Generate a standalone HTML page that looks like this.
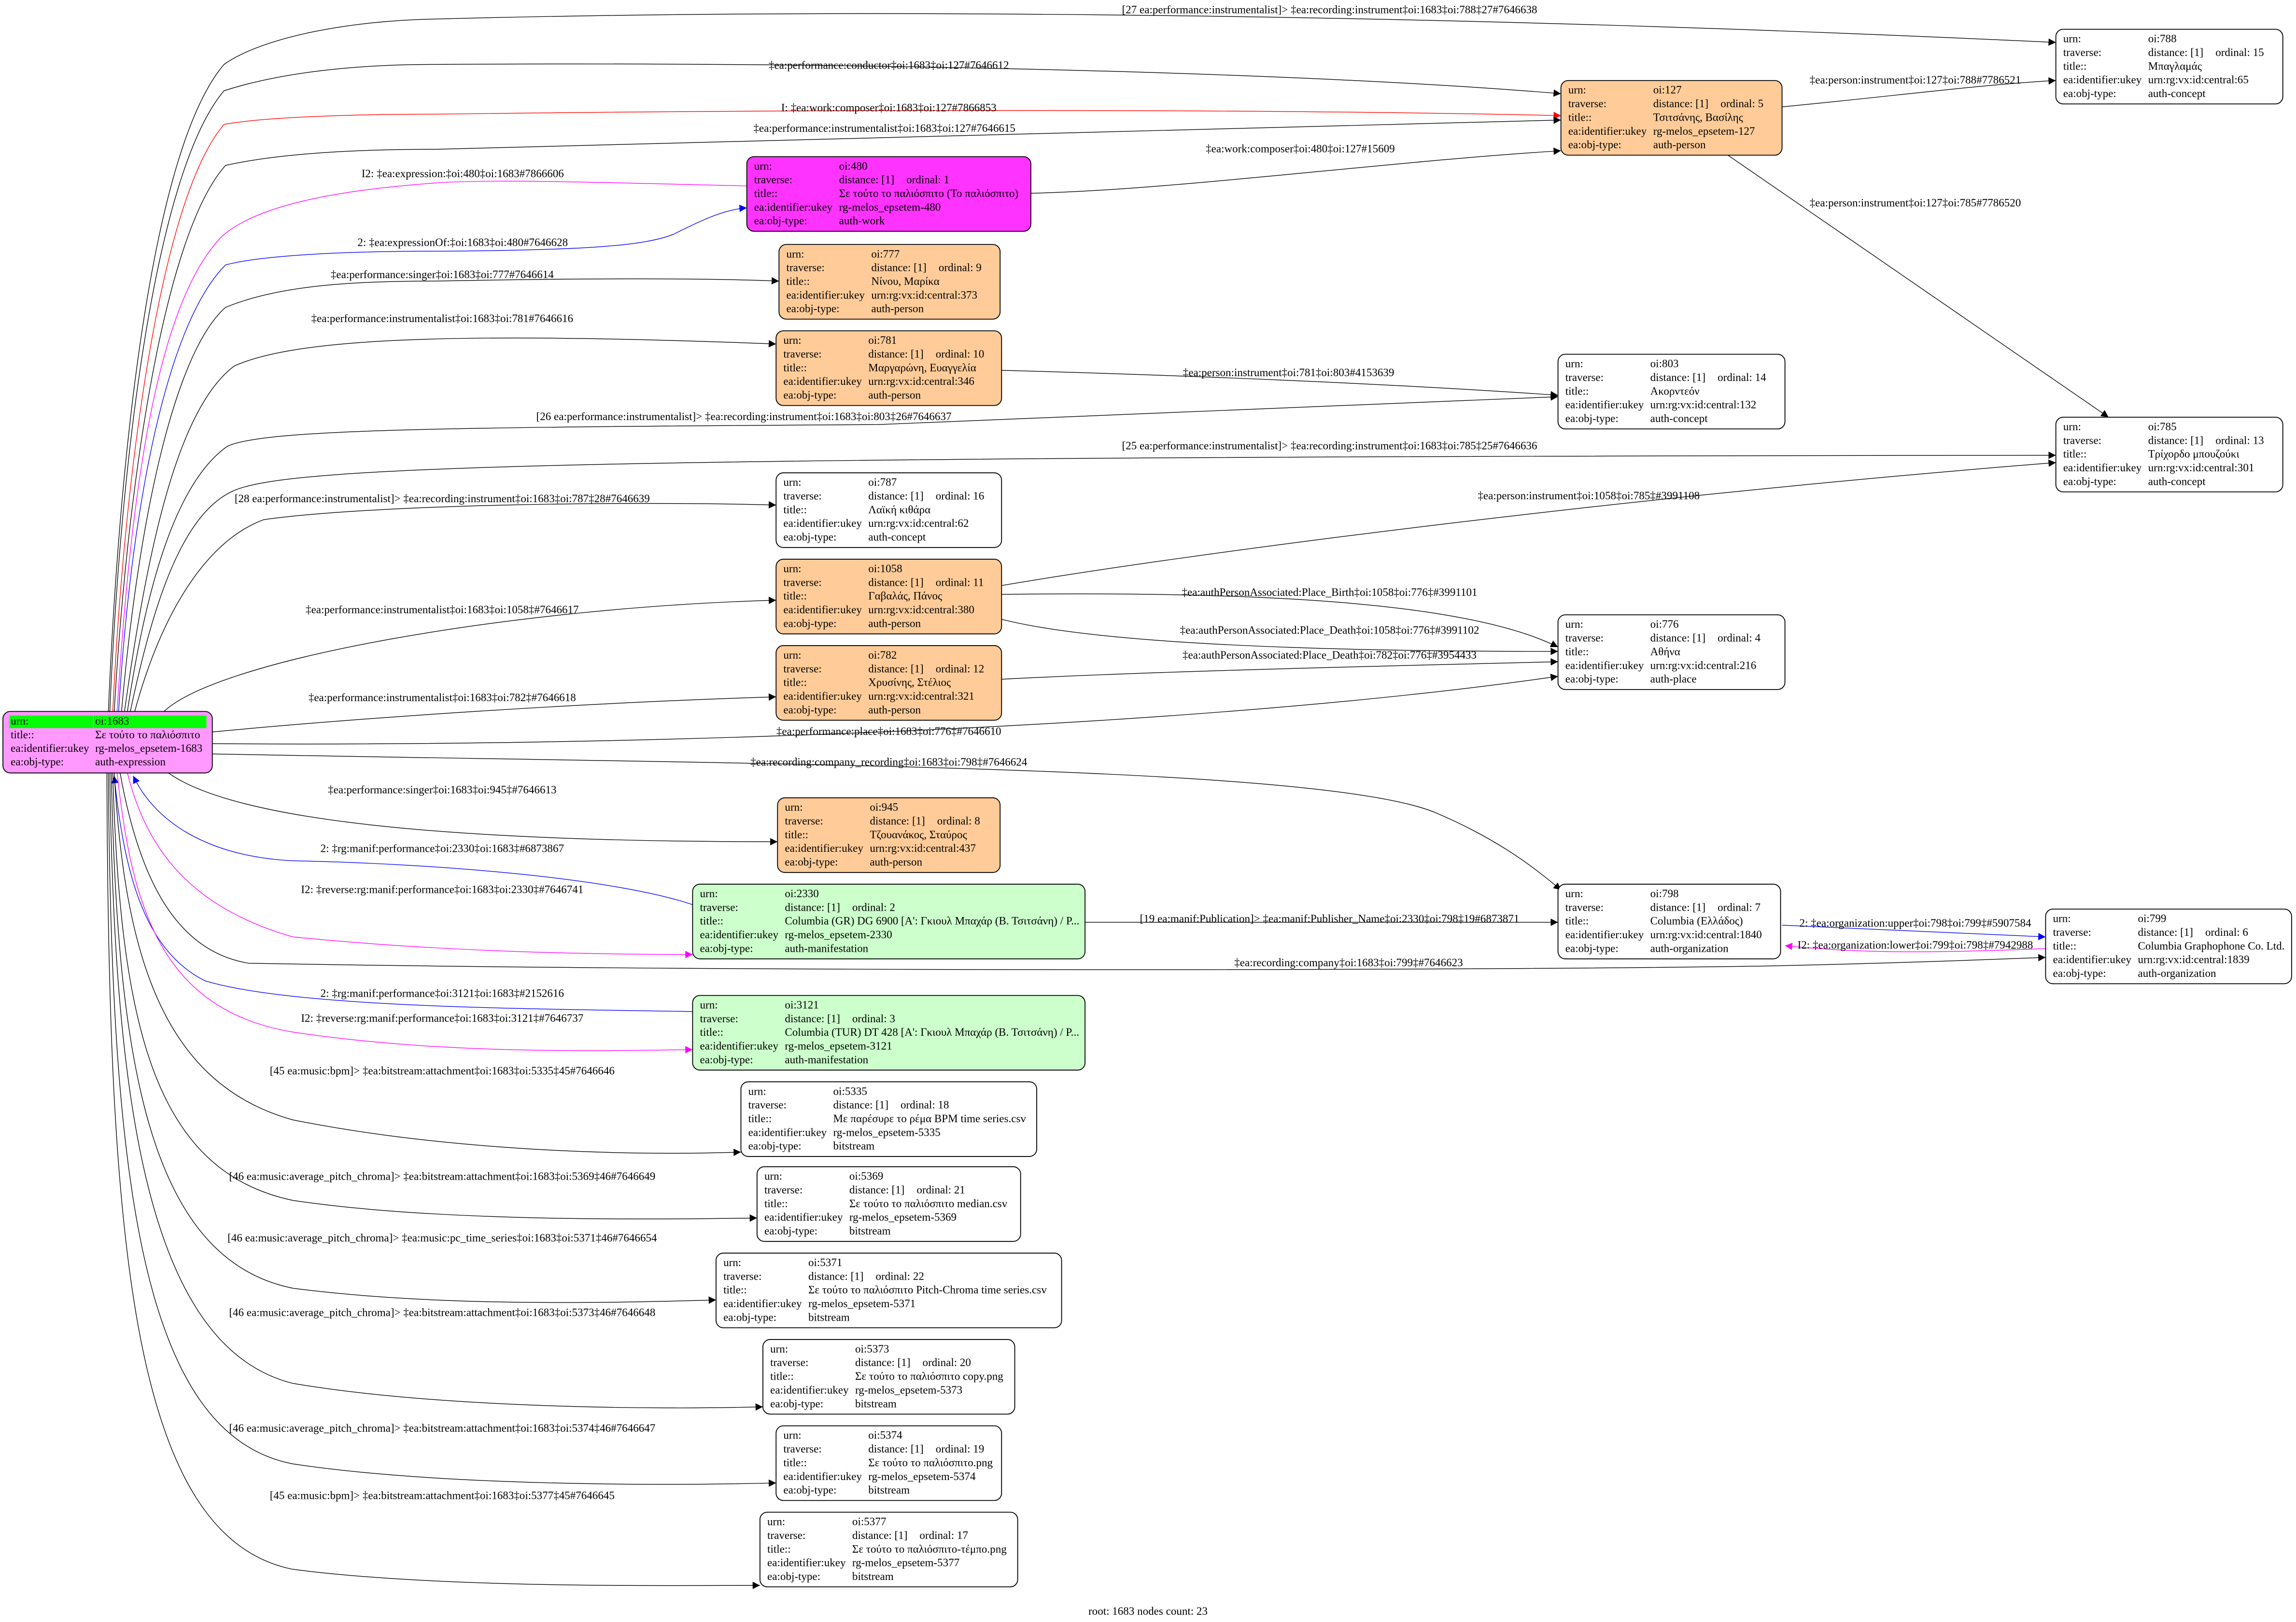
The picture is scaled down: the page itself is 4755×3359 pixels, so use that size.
<!DOCTYPE html>
<html><head><meta charset="utf-8">
<style>
html,body{margin:0;padding:0;background:#fff;}
svg{display:block;}
text{font-family:"Liberation Serif","DejaVu Serif",serif;font-size:7.6px;fill:#000;}
.e{fill:none;stroke:#000;stroke-width:0.45;}
.l{text-anchor:middle;}
</style></head>
<body>
<svg xmlns="http://www.w3.org/2000/svg" width="4755" height="3359" viewBox="0 0 1568 1108" preserveAspectRatio="none">
<defs>
<marker id="ak" viewBox="0 0 10 10" refX="10" refY="5" markerWidth="7" markerHeight="5" markerUnits="userSpaceOnUse" orient="auto"><path d="M0,0 L10,5 L0,10 z" fill="#000"/></marker>
<marker id="ab" viewBox="0 0 10 10" refX="10" refY="5" markerWidth="7" markerHeight="5" markerUnits="userSpaceOnUse" orient="auto"><path d="M0,0 L10,5 L0,10 z" fill="#00f"/></marker>
<marker id="am" viewBox="0 0 10 10" refX="10" refY="5" markerWidth="7" markerHeight="5" markerUnits="userSpaceOnUse" orient="auto"><path d="M0,0 L10,5 L0,10 z" fill="#f0f"/></marker>
<marker id="ar" viewBox="0 0 10 10" refX="10" refY="5" markerWidth="7" markerHeight="5" markerUnits="userSpaceOnUse" orient="auto"><path d="M0,0 L10,5 L0,10 z" fill="#f00"/></marker>
</defs>

<!-- edges -->
<path class="e" marker-end="url(#ak)" d="M74,486 C82,300 105,100 153,44 C180,25 240,14 297,13 C600,5 1000,10 1404,29"/>
<path class="e" marker-end="url(#ak)" d="M75,486 C83,300 108,115 153,62 C190,50 240,44 297,44 C600,42 900,50 1066,64"/>
<path class="e" style="stroke:#f00" marker-end="url(#ar)" d="M77,486 C85,320 110,135 153,85 C180,80 240,78 297,78 C600,74 900,75 1066,79"/>
<path class="e" marker-end="url(#ak)" d="M78,486 C87,330 112,160 154,113 C190,105 240,102 297,102 C600,95 900,85 1066,82"/>
<path class="e" marker-end="url(#ak)" d="M704,132 C800,130 950,110 1066,103"/>
<path class="e" style="stroke:#f0f" d="M510,127 C420,125 340,122 297,125 C230,130 175,140 151,162 C110,205 90,320 80,486"/>
<path class="e" style="stroke:#00f" marker-end="url(#ab)" d="M81,486 C90,340 115,220 154,181 C180,174 240,171.6 297,171.6 C400,171 440,168 460,160 C480,150 495,143 510,142"/>
<path class="e" marker-end="url(#ak)" d="M83,486 C95,350 120,240 154,210 C190,195 240,192 297,192 C400,190 480,190 532,192"/>
<path class="e" marker-end="url(#ak)" d="M85,486 C100,380 120,280 160,250 C200,232 300,226 530,235"/>
<path class="e" marker-end="url(#ak)" d="M87,486 C100,400 120,330 155,305 C180,293 300,292 600,290 L1064,271"/>
<path class="e" marker-end="url(#ak)" d="M89,486 C105,410 125,350 160,335 C200,318 400,312 1404,311"/>
<path class="e" marker-end="url(#ak)" d="M92,486 C110,420 140,370 180,355 C250,345 420,342 530,345"/>
<path class="e" marker-end="url(#ak)" d="M112,486 C150,450 350,415 530,410"/>
<path class="e" marker-end="url(#ak)" d="M145,500 C250,490 400,480 530,476"/>
<path class="e" marker-end="url(#ak)" d="M145,508 C400,510 800,500 1064,462"/>
<path class="e" marker-end="url(#ak)" d="M145,515 C500,522 900,522 980,555 C1020,572 1045,590 1066,608"/>
<path class="e" marker-end="url(#ak)" d="M115,528 C160,560 300,575 531,575"/>
<path class="e" style="stroke:#00f" marker-end="url(#ab)" d="M473,618 C420,600 300,590 200,588 C140,585 105,560 91,530"/>
<path class="e" style="stroke:#f0f" marker-end="url(#am)" d="M87,528 C100,580 130,620 200,640 C300,650 400,652 473,652"/>
<path class="e" marker-end="url(#ak)" d="M82,528 C95,600 120,650 170,658 C500,664 1000,663 1200,660 C1300,658 1370,655 1397,654"/>
<path class="e" style="stroke:#00f" marker-end="url(#ab)" d="M473,691 C350,689 200,688 140,670 C100,650 85,600 78,530"/>
<path class="e" style="stroke:#f0f" marker-end="url(#am)" d="M80,528 C90,620 110,690 200,705 C300,720 400,718 473,717"/>
<path class="e" marker-end="url(#ak)" d="M78,528 C85,650 110,740 200,765 C300,785 420,790 506,787"/>
<path class="e" marker-end="url(#ak)" d="M77,528 C82,700 105,800 200,820 C300,835 450,833 517,832"/>
<path class="e" marker-end="url(#ak)" d="M76,528 C80,720 100,860 200,880 C300,893 420,890 489,888"/>
<path class="e" marker-end="url(#ak)" d="M75,528 C78,750 100,920 200,945 C300,962 450,963 521,961"/>
<path class="e" marker-end="url(#ak)" d="M74,528 C76,800 95,980 200,1000 C300,1015 450,1015 530,1013"/>
<path class="e" marker-end="url(#ak)" d="M73,528 C74,850 90,1050 200,1072 C300,1085 450,1083 519,1083"/>
<path class="e" marker-end="url(#ak)" d="M1217,73 C1300,65 1350,58 1404,55"/>
<path class="e" marker-end="url(#ak)" d="M1180,106 L1440,285"/>
<path class="e" marker-end="url(#ak)" d="M684,253 C800,256 950,262 1064,270"/>
<path class="e" marker-end="url(#ak)" d="M684,400 C800,380 1100,340 1404,316"/>
<path class="e" marker-end="url(#ak)" d="M684,406 C850,404 1000,410 1064,442"/>
<path class="e" marker-end="url(#ak)" d="M684,423 C750,440 900,445 1064,445"/>
<path class="e" marker-end="url(#ak)" d="M684,464 C800,458 950,455 1064,452"/>
<path class="e" marker-end="url(#ak)" d="M741,630 L1064,630"/>
<path class="e" style="stroke:#00f" marker-end="url(#ab)" d="M1217,632 L1397,640"/>
<path class="e" style="stroke:#f0f" marker-end="url(#am)" d="M1397,648 C1300,652 1260,650 1219,646"/>

<!-- edge labels -->
<text class="l" x="908" y="9">[27 ea:performance:instrumentalist]&gt; ‡ea:recording:instrument‡oi:1683‡oi:788‡27#7646638</text>
<text class="l" x="607" y="47">‡ea:performance:conductor‡oi:1683‡oi:127#7646612</text>
<text class="l" x="607" y="76">I: ‡ea:work:composer‡oi:1683‡oi:127#7866853</text>
<text class="l" x="604" y="90">‡ea:performance:instrumentalist‡oi:1683‡oi:127#7646615</text>
<text class="l" x="888" y="104">‡ea:work:composer‡oi:480‡oi:127#15609</text>
<text class="l" x="1308" y="57">‡ea:person:instrument‡oi:127‡oi:788#7786521</text>
<text class="l" x="1308" y="141">‡ea:person:instrument‡oi:127‡oi:785#7786520</text>
<text class="l" x="316" y="121">I2: ‡ea:expression:‡oi:480‡oi:1683#7866606</text>
<text class="l" x="316" y="168">2: ‡ea:expressionOf:‡oi:1683‡oi:480#7646628</text>
<text class="l" x="302" y="190">‡ea:performance:singer‡oi:1683‡oi:777#7646614</text>
<text class="l" x="302" y="220">‡ea:performance:instrumentalist‡oi:1683‡oi:781#7646616</text>
<text class="l" x="880" y="257">‡ea:person:instrument‡oi:781‡oi:803#4153639</text>
<text class="l" x="508" y="287">[26 ea:performance:instrumentalist]&gt; ‡ea:recording:instrument‡oi:1683‡oi:803‡26#7646637</text>
<text class="l" x="908" y="307">[25 ea:performance:instrumentalist]&gt; ‡ea:recording:instrument‡oi:1683‡oi:785‡25#7646636</text>
<text class="l" x="302" y="343">[28 ea:performance:instrumentalist]&gt; ‡ea:recording:instrument‡oi:1683‡oi:787‡28#7646639</text>
<text class="l" x="1085" y="341">‡ea:person:instrument‡oi:1058‡oi:785‡#3991108</text>
<text class="l" x="908" y="407">‡ea:authPersonAssociated:Place_Birth‡oi:1058‡oi:776‡#3991101</text>
<text class="l" x="908" y="433">‡ea:authPersonAssociated:Place_Death‡oi:1058‡oi:776‡#3991102</text>
<text class="l" x="908" y="450">‡ea:authPersonAssociated:Place_Death‡oi:782‡oi:776‡#3954433</text>
<text class="l" x="302" y="419">‡ea:performance:instrumentalist‡oi:1683‡oi:1058‡#7646617</text>
<text class="l" x="302" y="479">‡ea:performance:instrumentalist‡oi:1683‡oi:782‡#7646618</text>
<text class="l" x="607" y="502">‡ea:performance:place‡oi:1683‡oi:776‡#7646610</text>
<text class="l" x="607" y="523">‡ea:recording:company_recording‡oi:1683‡oi:798‡#7646624</text>
<text class="l" x="302" y="542">‡ea:performance:singer‡oi:1683‡oi:945‡#7646613</text>
<text class="l" x="302" y="582">2: ‡rg:manif:performance‡oi:2330‡oi:1683‡#6873867</text>
<text class="l" x="302" y="610">I2: ‡reverse:rg:manif:performance‡oi:1683‡oi:2330‡#7646741</text>
<text class="l" x="908" y="630">[19 ea:manif:Publication]&gt; ‡ea:manif:Publisher_Name‡oi:2330‡oi:798‡19#6873871</text>
<text class="l" x="1308" y="633">2: ‡ea:organization:upper‡oi:798‡oi:799‡#5907584</text>
<text class="l" x="1308" y="648">I2: ‡ea:organization:lower‡oi:799‡oi:798‡#7942988</text>
<text class="l" x="921" y="660">‡ea:recording:company‡oi:1683‡oi:799‡#7646623</text>
<text class="l" x="302" y="681">2: ‡rg:manif:performance‡oi:3121‡oi:1683‡#2152616</text>
<text class="l" x="302" y="698">I2: ‡reverse:rg:manif:performance‡oi:1683‡oi:3121‡#7646737</text>
<text class="l" x="302" y="734">[45 ea:music:bpm]&gt; ‡ea:bitstream:attachment‡oi:1683‡oi:5335‡45#7646646</text>
<text class="l" x="302" y="806">[46 ea:music:average_pitch_chroma]&gt; ‡ea:bitstream:attachment‡oi:1683‡oi:5369‡46#7646649</text>
<text class="l" x="302" y="848">[46 ea:music:average_pitch_chroma]&gt; ‡ea:music:pc_time_series‡oi:1683‡oi:5371‡46#7646654</text>
<text class="l" x="302" y="899">[46 ea:music:average_pitch_chroma]&gt; ‡ea:bitstream:attachment‡oi:1683‡oi:5373‡46#7646648</text>
<text class="l" x="302" y="978">[46 ea:music:average_pitch_chroma]&gt; ‡ea:bitstream:attachment‡oi:1683‡oi:5374‡46#7646647</text>
<text class="l" x="302" y="1024">[45 ea:music:bpm]&gt; ‡ea:bitstream:attachment‡oi:1683‡oi:5377‡45#7646645</text>

<!-- root node -->
<g transform="translate(2,486)">
<rect x="0" y="0" width="143" height="42" rx="5" fill="#ff99ff" stroke="#000" stroke-width="0.6"/>
<rect x="4.5" y="2.8" width="57" height="8.6" fill="#00ff00"/>
<rect x="62" y="2.8" width="77" height="8.6" fill="#00ff00"/>
<text x="5.3" y="9">urn:</text><text x="63" y="9">oi:1683</text>
<text x="5.3" y="18.3">title::</text><text x="63" y="18.3">Σε τούτο το παλιόσπιτο</text>
<text x="5.3" y="27.6">ea:identifier:ukey</text><text x="63" y="27.6">rg-melos_epsetem-1683</text>
<text x="5.3" y="36.9">ea:obj-type:</text><text x="63" y="36.9">auth-expression</text>
</g>

<!-- nodes -->
<g transform="translate(1404,20)"><rect width="155" height="51" rx="5" fill="#fff" stroke="#000" stroke-width="0.6"/>
<text x="5" y="8.9">urn:</text><text x="63" y="8.9">oi:788</text>
<text x="5" y="18.25">traverse:</text><text x="63" y="18.25">distance: [1]</text><text x="109" y="18.25">ordinal: 15</text>
<text x="5" y="27.6">title::</text><text x="63" y="27.6">Μπαγλαμάς</text>
<text x="5" y="36.95">ea:identifier:ukey</text><text x="63" y="36.95">urn:rg:vx:id:central:65</text>
<text x="5" y="46.3">ea:obj-type:</text><text x="63" y="46.3">auth-concept</text></g>

<g transform="translate(1066,55)"><rect width="151" height="51" rx="5" fill="#ffcc99" stroke="#000" stroke-width="0.6"/>
<text x="5" y="8.9">urn:</text><text x="63" y="8.9">oi:127</text>
<text x="5" y="18.25">traverse:</text><text x="63" y="18.25">distance: [1]</text><text x="109" y="18.25">ordinal: 5</text>
<text x="5" y="27.6">title::</text><text x="63" y="27.6">Τσιτσάνης, Βασίλης</text>
<text x="5" y="36.95">ea:identifier:ukey</text><text x="63" y="36.95">rg-melos_epsetem-127</text>
<text x="5" y="46.3">ea:obj-type:</text><text x="63" y="46.3">auth-person</text></g>

<g transform="translate(510,107)"><rect width="194" height="51" rx="5" fill="#ff33ff" stroke="#000" stroke-width="0.6"/>
<text x="5" y="8.9">urn:</text><text x="63" y="8.9">oi:480</text>
<text x="5" y="18.25">traverse:</text><text x="63" y="18.25">distance: [1]</text><text x="109" y="18.25">ordinal: 1</text>
<text x="5" y="27.6">title::</text><text x="63" y="27.6">Σε τούτο το παλιόσπιτο (Το παλιόσπιτο)</text>
<text x="5" y="36.95">ea:identifier:ukey</text><text x="63" y="36.95">rg-melos_epsetem-480</text>
<text x="5" y="46.3">ea:obj-type:</text><text x="63" y="46.3">auth-work</text></g>

<g transform="translate(532,167)"><rect width="151" height="51" rx="5" fill="#ffcc99" stroke="#000" stroke-width="0.6"/>
<text x="5" y="8.9">urn:</text><text x="63" y="8.9">oi:777</text>
<text x="5" y="18.25">traverse:</text><text x="63" y="18.25">distance: [1]</text><text x="109" y="18.25">ordinal: 9</text>
<text x="5" y="27.6">title::</text><text x="63" y="27.6">Νίνου, Μαρίκα</text>
<text x="5" y="36.95">ea:identifier:ukey</text><text x="63" y="36.95">urn:rg:vx:id:central:373</text>
<text x="5" y="46.3">ea:obj-type:</text><text x="63" y="46.3">auth-person</text></g>

<g transform="translate(530,226)"><rect width="154" height="51" rx="5" fill="#ffcc99" stroke="#000" stroke-width="0.6"/>
<text x="5" y="8.9">urn:</text><text x="63" y="8.9">oi:781</text>
<text x="5" y="18.25">traverse:</text><text x="63" y="18.25">distance: [1]</text><text x="109" y="18.25">ordinal: 10</text>
<text x="5" y="27.6">title::</text><text x="63" y="27.6">Μαργαρώνη, Ευαγγελία</text>
<text x="5" y="36.95">ea:identifier:ukey</text><text x="63" y="36.95">urn:rg:vx:id:central:346</text>
<text x="5" y="46.3">ea:obj-type:</text><text x="63" y="46.3">auth-person</text></g>

<g transform="translate(1064,242)"><rect width="155" height="51" rx="5" fill="#fff" stroke="#000" stroke-width="0.6"/>
<text x="5" y="8.9">urn:</text><text x="63" y="8.9">oi:803</text>
<text x="5" y="18.25">traverse:</text><text x="63" y="18.25">distance: [1]</text><text x="109" y="18.25">ordinal: 14</text>
<text x="5" y="27.6">title::</text><text x="63" y="27.6">Ακορντεόν</text>
<text x="5" y="36.95">ea:identifier:ukey</text><text x="63" y="36.95">urn:rg:vx:id:central:132</text>
<text x="5" y="46.3">ea:obj-type:</text><text x="63" y="46.3">auth-concept</text></g>

<g transform="translate(1404,285)"><rect width="155" height="51" rx="5" fill="#fff" stroke="#000" stroke-width="0.6"/>
<text x="5" y="8.9">urn:</text><text x="63" y="8.9">oi:785</text>
<text x="5" y="18.25">traverse:</text><text x="63" y="18.25">distance: [1]</text><text x="109" y="18.25">ordinal: 13</text>
<text x="5" y="27.6">title::</text><text x="63" y="27.6">Τρίχορδο μπουζούκι</text>
<text x="5" y="36.95">ea:identifier:ukey</text><text x="63" y="36.95">urn:rg:vx:id:central:301</text>
<text x="5" y="46.3">ea:obj-type:</text><text x="63" y="46.3">auth-concept</text></g>

<g transform="translate(530,323)"><rect width="154" height="51" rx="5" fill="#fff" stroke="#000" stroke-width="0.6"/>
<text x="5" y="8.9">urn:</text><text x="63" y="8.9">oi:787</text>
<text x="5" y="18.25">traverse:</text><text x="63" y="18.25">distance: [1]</text><text x="109" y="18.25">ordinal: 16</text>
<text x="5" y="27.6">title::</text><text x="63" y="27.6">Λαϊκή κιθάρα</text>
<text x="5" y="36.95">ea:identifier:ukey</text><text x="63" y="36.95">urn:rg:vx:id:central:62</text>
<text x="5" y="46.3">ea:obj-type:</text><text x="63" y="46.3">auth-concept</text></g>

<g transform="translate(530,382)"><rect width="154" height="51" rx="5" fill="#ffcc99" stroke="#000" stroke-width="0.6"/>
<text x="5" y="8.9">urn:</text><text x="63" y="8.9">oi:1058</text>
<text x="5" y="18.25">traverse:</text><text x="63" y="18.25">distance: [1]</text><text x="109" y="18.25">ordinal: 11</text>
<text x="5" y="27.6">title::</text><text x="63" y="27.6">Γαβαλάς, Πάνος</text>
<text x="5" y="36.95">ea:identifier:ukey</text><text x="63" y="36.95">urn:rg:vx:id:central:380</text>
<text x="5" y="46.3">ea:obj-type:</text><text x="63" y="46.3">auth-person</text></g>

<g transform="translate(1064,420)"><rect width="155" height="51" rx="5" fill="#fff" stroke="#000" stroke-width="0.6"/>
<text x="5" y="8.9">urn:</text><text x="63" y="8.9">oi:776</text>
<text x="5" y="18.25">traverse:</text><text x="63" y="18.25">distance: [1]</text><text x="109" y="18.25">ordinal: 4</text>
<text x="5" y="27.6">title::</text><text x="63" y="27.6">Αθήνα</text>
<text x="5" y="36.95">ea:identifier:ukey</text><text x="63" y="36.95">urn:rg:vx:id:central:216</text>
<text x="5" y="46.3">ea:obj-type:</text><text x="63" y="46.3">auth-place</text></g>

<g transform="translate(530,441)"><rect width="154" height="51" rx="5" fill="#ffcc99" stroke="#000" stroke-width="0.6"/>
<text x="5" y="8.9">urn:</text><text x="63" y="8.9">oi:782</text>
<text x="5" y="18.25">traverse:</text><text x="63" y="18.25">distance: [1]</text><text x="109" y="18.25">ordinal: 12</text>
<text x="5" y="27.6">title::</text><text x="63" y="27.6">Χρυσίνης, Στέλιος</text>
<text x="5" y="36.95">ea:identifier:ukey</text><text x="63" y="36.95">urn:rg:vx:id:central:321</text>
<text x="5" y="46.3">ea:obj-type:</text><text x="63" y="46.3">auth-person</text></g>

<g transform="translate(531,545)"><rect width="152" height="51" rx="5" fill="#ffcc99" stroke="#000" stroke-width="0.6"/>
<text x="5" y="8.9">urn:</text><text x="63" y="8.9">oi:945</text>
<text x="5" y="18.25">traverse:</text><text x="63" y="18.25">distance: [1]</text><text x="109" y="18.25">ordinal: 8</text>
<text x="5" y="27.6">title::</text><text x="63" y="27.6">Τζουανάκος, Σταύρος</text>
<text x="5" y="36.95">ea:identifier:ukey</text><text x="63" y="36.95">urn:rg:vx:id:central:437</text>
<text x="5" y="46.3">ea:obj-type:</text><text x="63" y="46.3">auth-person</text></g>

<g transform="translate(473,604)"><rect width="268" height="51" rx="5" fill="#ccffcc" stroke="#000" stroke-width="0.6"/>
<text x="5" y="8.9">urn:</text><text x="63" y="8.9">oi:2330</text>
<text x="5" y="18.25">traverse:</text><text x="63" y="18.25">distance: [1]</text><text x="109" y="18.25">ordinal: 2</text>
<text x="5" y="27.6">title::</text><text x="63" y="27.6">Columbia (GR) DG 6900 [Α': Γκιουλ Μπαχάρ (Β. Τσιτσάνη) / Ρ...</text>
<text x="5" y="36.95">ea:identifier:ukey</text><text x="63" y="36.95">rg-melos_epsetem-2330</text>
<text x="5" y="46.3">ea:obj-type:</text><text x="63" y="46.3">auth-manifestation</text></g>

<g transform="translate(1064,604)"><rect width="152" height="51" rx="5" fill="#fff" stroke="#000" stroke-width="0.6"/>
<text x="5" y="8.9">urn:</text><text x="63" y="8.9">oi:798</text>
<text x="5" y="18.25">traverse:</text><text x="63" y="18.25">distance: [1]</text><text x="109" y="18.25">ordinal: 7</text>
<text x="5" y="27.6">title::</text><text x="63" y="27.6">Columbia (Ελλάδος)</text>
<text x="5" y="36.95">ea:identifier:ukey</text><text x="63" y="36.95">urn:rg:vx:id:central:1840</text>
<text x="5" y="46.3">ea:obj-type:</text><text x="63" y="46.3">auth-organization</text></g>

<g transform="translate(1397,621)"><rect width="168" height="51" rx="5" fill="#fff" stroke="#000" stroke-width="0.6"/>
<text x="5" y="8.9">urn:</text><text x="63" y="8.9">oi:799</text>
<text x="5" y="18.25">traverse:</text><text x="63" y="18.25">distance: [1]</text><text x="109" y="18.25">ordinal: 6</text>
<text x="5" y="27.6">title::</text><text x="63" y="27.6">Columbia Graphophone Co. Ltd.</text>
<text x="5" y="36.95">ea:identifier:ukey</text><text x="63" y="36.95">urn:rg:vx:id:central:1839</text>
<text x="5" y="46.3">ea:obj-type:</text><text x="63" y="46.3">auth-organization</text></g>

<g transform="translate(473,680)"><rect width="268" height="51" rx="5" fill="#ccffcc" stroke="#000" stroke-width="0.6"/>
<text x="5" y="8.9">urn:</text><text x="63" y="8.9">oi:3121</text>
<text x="5" y="18.25">traverse:</text><text x="63" y="18.25">distance: [1]</text><text x="109" y="18.25">ordinal: 3</text>
<text x="5" y="27.6">title::</text><text x="63" y="27.6">Columbia (TUR) DT 428 [Α': Γκιουλ Μπαχάρ (Β. Τσιτσάνη) / Ρ...</text>
<text x="5" y="36.95">ea:identifier:ukey</text><text x="63" y="36.95">rg-melos_epsetem-3121</text>
<text x="5" y="46.3">ea:obj-type:</text><text x="63" y="46.3">auth-manifestation</text></g>

<g transform="translate(506,739)"><rect width="202" height="51" rx="5" fill="#fff" stroke="#000" stroke-width="0.6"/>
<text x="5" y="8.9">urn:</text><text x="63" y="8.9">oi:5335</text>
<text x="5" y="18.25">traverse:</text><text x="63" y="18.25">distance: [1]</text><text x="109" y="18.25">ordinal: 18</text>
<text x="5" y="27.6">title::</text><text x="63" y="27.6">Με παρέσυρε το ρέμα BPM time series.csv</text>
<text x="5" y="36.95">ea:identifier:ukey</text><text x="63" y="36.95">rg-melos_epsetem-5335</text>
<text x="5" y="46.3">ea:obj-type:</text><text x="63" y="46.3">bitstream</text></g>

<g transform="translate(517,797)"><rect width="180" height="51" rx="5" fill="#fff" stroke="#000" stroke-width="0.6"/>
<text x="5" y="8.9">urn:</text><text x="63" y="8.9">oi:5369</text>
<text x="5" y="18.25">traverse:</text><text x="63" y="18.25">distance: [1]</text><text x="109" y="18.25">ordinal: 21</text>
<text x="5" y="27.6">title::</text><text x="63" y="27.6">Σε τούτο το παλιόσπιτο median.csv</text>
<text x="5" y="36.95">ea:identifier:ukey</text><text x="63" y="36.95">rg-melos_epsetem-5369</text>
<text x="5" y="46.3">ea:obj-type:</text><text x="63" y="46.3">bitstream</text></g>

<g transform="translate(489,856)"><rect width="236" height="51" rx="5" fill="#fff" stroke="#000" stroke-width="0.6"/>
<text x="5" y="8.9">urn:</text><text x="63" y="8.9">oi:5371</text>
<text x="5" y="18.25">traverse:</text><text x="63" y="18.25">distance: [1]</text><text x="109" y="18.25">ordinal: 22</text>
<text x="5" y="27.6">title::</text><text x="63" y="27.6">Σε τούτο το παλιόσπιτο Pitch-Chroma time series.csv</text>
<text x="5" y="36.95">ea:identifier:ukey</text><text x="63" y="36.95">rg-melos_epsetem-5371</text>
<text x="5" y="46.3">ea:obj-type:</text><text x="63" y="46.3">bitstream</text></g>

<g transform="translate(521,915)"><rect width="172" height="51" rx="5" fill="#fff" stroke="#000" stroke-width="0.6"/>
<text x="5" y="8.9">urn:</text><text x="63" y="8.9">oi:5373</text>
<text x="5" y="18.25">traverse:</text><text x="63" y="18.25">distance: [1]</text><text x="109" y="18.25">ordinal: 20</text>
<text x="5" y="27.6">title::</text><text x="63" y="27.6">Σε τούτο το παλιόσπιτο copy.png</text>
<text x="5" y="36.95">ea:identifier:ukey</text><text x="63" y="36.95">rg-melos_epsetem-5373</text>
<text x="5" y="46.3">ea:obj-type:</text><text x="63" y="46.3">bitstream</text></g>

<g transform="translate(530,974)"><rect width="154" height="51" rx="5" fill="#fff" stroke="#000" stroke-width="0.6"/>
<text x="5" y="8.9">urn:</text><text x="63" y="8.9">oi:5374</text>
<text x="5" y="18.25">traverse:</text><text x="63" y="18.25">distance: [1]</text><text x="109" y="18.25">ordinal: 19</text>
<text x="5" y="27.6">title::</text><text x="63" y="27.6">Σε τούτο το παλιόσπιτο.png</text>
<text x="5" y="36.95">ea:identifier:ukey</text><text x="63" y="36.95">rg-melos_epsetem-5374</text>
<text x="5" y="46.3">ea:obj-type:</text><text x="63" y="46.3">bitstream</text></g>

<g transform="translate(519,1033)"><rect width="176" height="51" rx="5" fill="#fff" stroke="#000" stroke-width="0.6"/>
<text x="5" y="8.9">urn:</text><text x="63" y="8.9">oi:5377</text>
<text x="5" y="18.25">traverse:</text><text x="63" y="18.25">distance: [1]</text><text x="109" y="18.25">ordinal: 17</text>
<text x="5" y="27.6">title::</text><text x="63" y="27.6">Σε τούτο το παλιόσπιτο-τέμπο.png</text>
<text x="5" y="36.95">ea:identifier:ukey</text><text x="63" y="36.95">rg-melos_epsetem-5377</text>
<text x="5" y="46.3">ea:obj-type:</text><text x="63" y="46.3">bitstream</text></g>

<text class="l" x="784" y="1103">root: 1683 nodes count: 23</text>
</svg>
</body></html>
